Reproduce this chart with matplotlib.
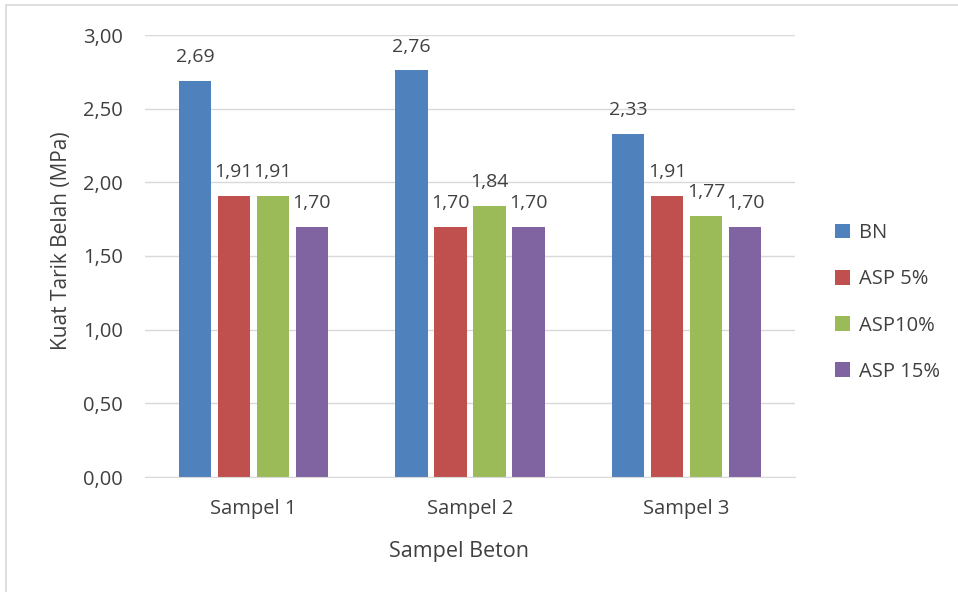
import numpy as np
import matplotlib.pyplot as plt
from matplotlib.patches import Rectangle

# Data
categories = ['Sampel 1', 'Sampel 2', 'Sampel 3']
series = ['BN', 'ASP 5%', 'ASP10%', 'ASP 15%']
values = {
    'BN': [2.69, 2.76, 2.33],
    'ASP 5%': [1.91, 1.70, 1.91],
    'ASP10%': [1.91, 1.84, 1.77],
    'ASP 15%': [1.70, 1.70, 1.70],
}
colors = ['#4f81bd', '#c0504d', '#9bbb59', '#8064a2']
yticks = [0, 0.5, 1.0, 1.5, 2.0, 2.5, 3.0]

plt.rcParams['font.family'] = ['Open Sans', 'DejaVu Sans']
txt = '#404040'

fig = plt.figure(figsize=(9.58, 5.92), dpi=100)
ax = fig.add_axes([145 / 958, 1 - 477 / 592, 650 / 958, 442 / 592])

# figure frame
fig.patches.append(Rectangle((6 / 958, -0.01), 1.0, 1 - 5 / 592 + 0.01,
                             transform=fig.transFigure, fill=False,
                             edgecolor='#d9d9d9', linewidth=1.2))

x = np.arange(len(categories))
width = 0.148
step = 0.18
for i, (name, c) in enumerate(zip(series, colors)):
    pos = x + (i - 1.5) * step
    bars = ax.bar(pos, values[name], width, color=c, label=name, zorder=2)
    for b, v in zip(bars, values[name]):
        ax.text(b.get_x() + b.get_width() / 2, v + 0.1,
                f'{v:.2f}'.replace('.', ','), ha='center', va='bottom',
                fontsize=14, color=txt)

ax.set_xlim(-0.5, 2.5)
ax.set_ylim(0, 3)
ax.set_yticks(yticks)
ax.set_yticklabels([f'{t:.2f}'.replace('.', ',') for t in yticks])
ax.set_xticks(x)
ax.set_xticklabels(categories)
ax.tick_params(length=0, labelsize=14.5, colors=txt)
ax.tick_params(axis='y', pad=16)
ax.tick_params(axis='x', pad=16)
ax.grid(axis='y', color='#d9d9d9', linewidth=1, zorder=0)
for s in ['top', 'right', 'left']:
    ax.spines[s].set_visible(False)
ax.spines['bottom'].set_color('#d9d9d9')

ax.set_xlabel('Sampel Beton', fontsize=15.5, color=txt)
ax.xaxis.set_label_coords(0.483, -0.145)
ax.set_ylabel('Kuat Tarik Belah (MPa)', fontsize=15, color=txt)
ax.yaxis.set_label_coords(-0.113, 0.534)

ax.legend(loc='center left', bbox_to_anchor=(1.033, 0.395), frameon=False,
          fontsize=14.5, labelcolor=txt, handlelength=0.75, handleheight=0.75,
          handletextpad=0.45, labelspacing=1.3)

fig.savefig('out.png', dpi=100)
